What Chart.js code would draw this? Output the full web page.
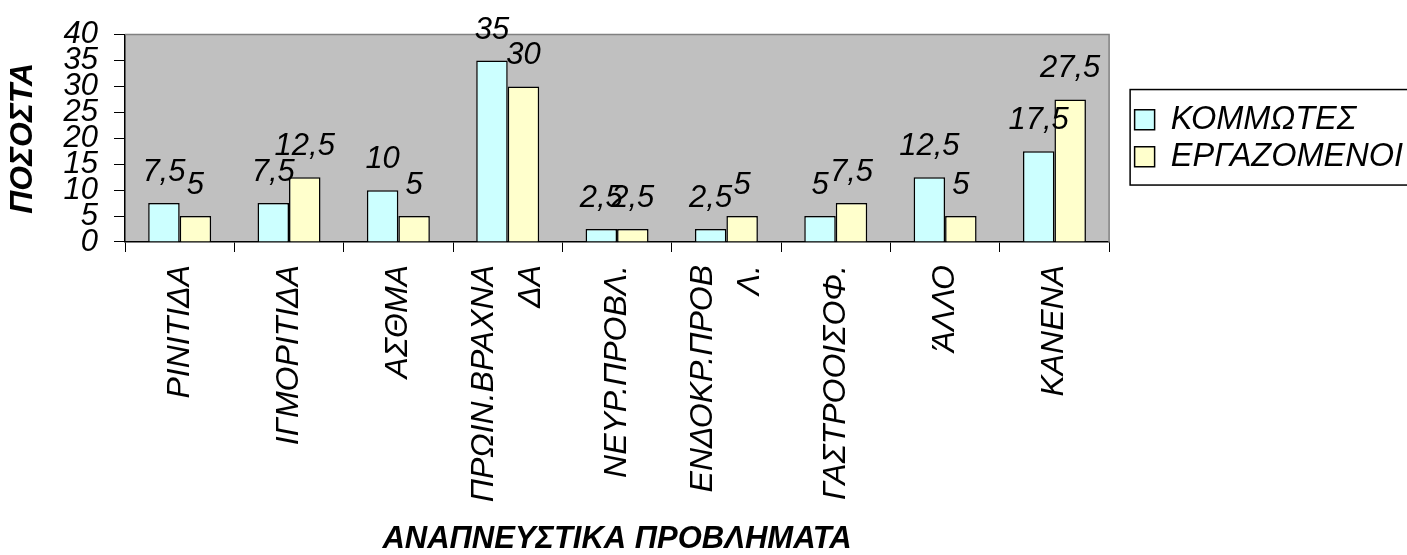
<!DOCTYPE html>
<html>
<head>
<meta charset="utf-8">
<style>
  html, body { margin: 0; padding: 0; background: #ffffff; }
  #wrap { width: 1407px; height: 555px; }
</style>
</head>
<body>
<div id="wrap"><canvas id="chart" width="1407" height="555"></canvas></div>
<script src="https://cdn.jsdelivr.net/npm/chart.js@4/dist/chart.umd.min.js"></script>
<script>
// Respiratory problems by group (%)
const categories = [
  'ΡΙΝΙΤΙΔΑ',
  'ΙΓΜΟΡΙΤΙΔΑ',
  'ΑΣΘΜΑ',
  ['ΠΡΩΙΝ.ΒΡΑΧΝΑ', 'ΔΑ'],
  'ΝΕΥΡ.ΠΡΟΒΛ.',
  ['ΕΝΔΟΚΡ.ΠΡΟΒ', 'Λ.'],
  'ΓΑΣΤΡΟΟΙΣΟΦ.',
  'ΆΛΛΟ',
  'ΚΑΝΕΝΑ'
];
const seriesNames = ['ΚΟΜΜΩΤΕΣ', 'ΕΡΓΑΖΟΜΕΝΟΙ'];
const kommotes    = [7.5, 7.5, 10, 35, 2.5, 2.5, 5, 12.5, 17.5];
const ergazomenoi = [5, 12.5, 5, 30, 2.5, 5, 7.5, 5, 27.5];
const yTickValues = [0, 5, 10, 15, 20, 25, 30, 35, 40];
const xTitle = 'ΑΝΑΠΝΕΥΣΤΙΚΑ ΠΡΟΒΛΗΜΑΤΑ';
const yTitle = 'ΠΟΣΟΣΤΑ';

const FONT = "'Liberation Sans', Arial, sans-serif";
const PLOT_BG = '#C0C0C0';
const PLOT_EDGE = '#808080';

// gray plot area with a thin frame on top and right
const plotBackground = {
  id: 'plotBackground',
  beforeDraw(chart) {
    const { ctx, chartArea: a } = chart;
    ctx.save();
    ctx.fillStyle = PLOT_BG;
    ctx.fillRect(a.left, a.top, a.right - a.left, a.bottom - a.top);
    ctx.restore();
  },
  beforeDatasetsDraw(chart) {
    const { ctx, chartArea: a } = chart;
    ctx.save();
    ctx.strokeStyle = PLOT_EDGE;
    ctx.lineWidth = 1.5;
    ctx.beginPath();
    ctx.moveTo(a.left, a.top);
    ctx.lineTo(a.right, a.top);
    ctx.lineTo(a.right, a.bottom);
    ctx.stroke();
    ctx.restore();
  }
};

// value labels above each bar, decimal comma
const valueLabels = {
  id: 'valueLabels',
  afterDatasetsDraw(chart) {
    const { ctx } = chart;
    ctx.save();
    ctx.font = 'italic 31px ' + FONT;
    ctx.fillStyle = '#000';
    ctx.textAlign = 'center';
    ctx.textBaseline = 'alphabetic';
    chart.data.datasets.forEach((ds, di) => {
      const meta = chart.getDatasetMeta(di);
      meta.data.forEach((bar, i) => {
        const txt = String(ds.data[i]).replace('.', ',');
        ctx.fillText(txt, bar.x, bar.y - 22);
      });
    });
    ctx.restore();
  }
};

// center two-line category labels on their tick
const centerWrappedLabels = {
  id: 'centerWrappedLabels',
  beforeDraw(chart) {
    const sc = chart.scales.x;
    if (!sc || typeof sc.getLabelItems !== 'function') return;
    const items = sc.getLabelItems();
    items.forEach(item => {
      if (item._centered) return;
      if (Array.isArray(item.label) && item.label.length > 1) {
        const lh = item.font && item.font.lineHeight ? item.font.lineHeight : 46;
        item.textOffset -= lh * (item.label.length - 1) / 2;
      }
      item._centered = true;
    });
  }
};

// frame around the legend
const legendFrame = {
  id: 'legendFrame',
  afterDraw(chart) {
    const lg = chart.legend;
    if (!lg || !lg.legendHitBoxes || !lg.legendHitBoxes.length) return;
    const hb = lg.legendHitBoxes;
    const top = hb[0].top - 14;
    const last = hb[hb.length - 1];
    const bottom = last.top + last.height + 12;
    const { ctx } = chart;
    ctx.save();
    ctx.strokeStyle = '#000';
    ctx.lineWidth = 1.5;
    ctx.strokeRect(lg.left, top, chart.width - lg.left + 5, bottom - top);
    ctx.restore();
  }
};

new Chart(document.getElementById('chart'), {
  type: 'bar',
  data: {
    labels: categories,
    datasets: [
      {
        label: seriesNames[0],
        data: kommotes,
        backgroundColor: '#CCFFFF',
        borderColor: '#000000',
        borderWidth: 1.5,
        categoryPercentage: 0.576,
        barPercentage: 1.0
      },
      {
        label: seriesNames[1],
        data: ergazomenoi,
        backgroundColor: '#FFFFCC',
        borderColor: '#000000',
        borderWidth: 1.5,
        categoryPercentage: 0.576,
        barPercentage: 1.0
      }
    ]
  },
  options: {
    responsive: false,
    animation: false,
    devicePixelRatio: 1,
    layout: { padding: { top: 30, right: -6, bottom: 0, left: 0 } },
    plugins: {
      tooltip: { enabled: false },
      legend: {
        position: 'right',
        fullSize: false,
        maxWidth: 320,
        labels: {
          boxWidth: 20,
          boxHeight: 20,
          padding: 4.5,
          color: '#000',
          font: { family: FONT, size: 32.5, style: 'italic' }
        }
      }
    },
    scales: {
      x: {
        grid: {
          offset: true,
          drawOnChartArea: false,
          drawTicks: true,
          tickLength: 10,
          color: '#000',
          lineWidth: 1
        },
        border: { color: '#000', width: 1.5 },
        ticks: {
          autoSkip: false,
          minRotation: 90,
          maxRotation: 90,
          padding: 13,
          color: '#000',
          font: { family: FONT, size: 32, style: 'italic', lineHeight: 1.45 }
        },
        title: {
          display: true,
          text: xTitle,
          color: '#000',
          font: { family: FONT, size: 31, style: 'italic', weight: 'bold', lineHeight: 1 },
          padding: { top: 0, bottom: 0 }
        },
        afterFit(scale) { scale.height = 313; }
      },
      y: {
        min: 0,
        max: 40,
        afterBuildTicks(scale) { scale.ticks = yTickValues.map(v => ({ value: v })); },
        grid: {
          drawOnChartArea: false,
          drawTicks: true,
          tickLength: 11,
          color: '#000',
          lineWidth: 1
        },
        border: { color: '#000', width: 1.5 },
        ticks: {
          autoSkip: false,
          padding: 16,
          color: '#000',
          font: { family: FONT, size: 31, style: 'italic' }
        },
        title: {
          display: true,
          text: yTitle,
          color: '#000',
          font: { family: FONT, size: 32, style: 'italic', weight: 'bold', lineHeight: 1.2 },
          padding: { top: 4, bottom: 0 }
        },
        afterFit(scale) { scale.width = 125; }
      },
      gap: {
        axis: 'y',
        position: 'right',
        display: true,
        grid: { display: false },
        border: { display: false },
        ticks: { display: false },
        afterFit(scale) { scale.width = 21; }
      }
    }
  },
  plugins: [plotBackground, valueLabels, centerWrappedLabels, legendFrame]
});
</script>
</body>
</html>
